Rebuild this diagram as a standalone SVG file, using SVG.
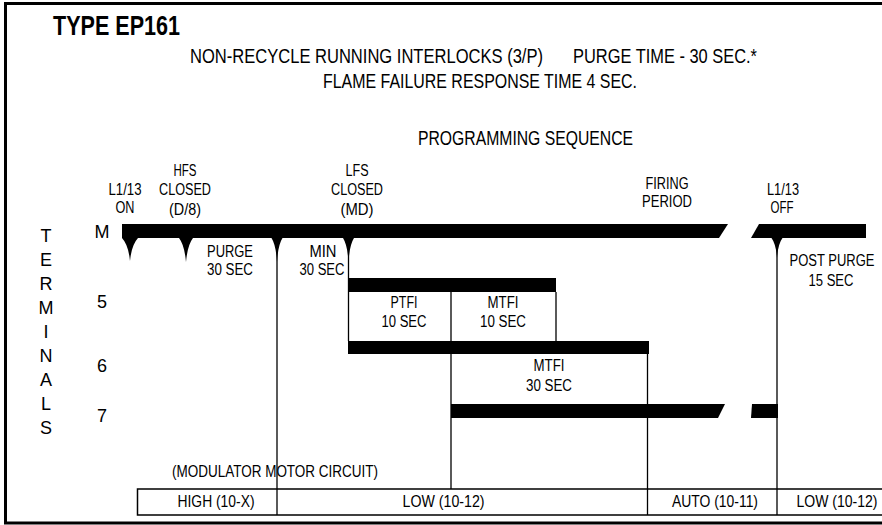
<svg xmlns="http://www.w3.org/2000/svg" width="882" height="525" viewBox="0 0 882 525">
<style>
text{font-family:"Liberation Sans",Arial,sans-serif;fill:#000}
.lb{font-size:16px;text-anchor:middle}
.hd{font-size:21px}
.tm{font-size:18px;text-anchor:middle}
.bar{fill:#000}
.ln{stroke:#000;stroke-width:1.3;fill:none}
.fr{stroke:#000;stroke-width:3;fill:none}
.tb{stroke:#000;stroke-width:1.5;fill:none}
</style>
<rect width="882" height="525" fill="#fff"/>
<g id="frame"><path class="fr" d="M882,3.5 H5.5 V523 H882"/></g>
<g id="title">
<text x="53" y="35" font-size="28" font-weight="bold" textLength="127" lengthAdjust="spacingAndGlyphs">TYPE EP161</text>
<text class="hd" x="190" y="63" textLength="353" lengthAdjust="spacingAndGlyphs">NON-RECYCLE RUNNING INTERLOCKS (3/P)</text>
<text class="hd" x="573" y="63" textLength="184" lengthAdjust="spacingAndGlyphs">PURGE TIME - 30 SEC.*</text>
<text class="hd" x="323" y="88" textLength="314" lengthAdjust="spacingAndGlyphs">FLAME FAILURE RESPONSE TIME 4 SEC.</text>
<text class="hd" x="418" y="145" textLength="215" lengthAdjust="spacingAndGlyphs">PROGRAMMING SEQUENCE</text>
</g>
<g id="terminals-axis">
<text class="tm" x="46" y="242">T</text>
<text class="tm" x="46" y="266">E</text>
<text class="tm" x="46" y="290">R</text>
<text class="tm" x="46" y="314">M</text>
<text class="tm" x="46" y="338">I</text>
<text class="tm" x="46" y="362">N</text>
<text class="tm" x="46" y="386">A</text>
<text class="tm" x="46" y="410">L</text>
<text class="tm" x="46" y="434">S</text>
<text class="tm" x="102" y="238">M</text>
<text class="tm" x="102" y="308">5</text>
<text class="tm" x="102" y="372">6</text>
<text class="tm" x="102" y="422">7</text>
</g>
<g id="event-labels">
<text class="lb" x="125" y="195" textLength="33" lengthAdjust="spacingAndGlyphs">L1/13</text>
<text class="lb" x="125" y="213" textLength="19" lengthAdjust="spacingAndGlyphs">ON</text>
<text class="lb" x="185" y="176" textLength="23" lengthAdjust="spacingAndGlyphs">HFS</text>
<text class="lb" x="185" y="195" textLength="52" lengthAdjust="spacingAndGlyphs">CLOSED</text>
<text class="lb" x="185" y="215" textLength="32" lengthAdjust="spacingAndGlyphs">(D/8)</text>
<text class="lb" x="357" y="176" textLength="23" lengthAdjust="spacingAndGlyphs">LFS</text>
<text class="lb" x="357" y="195" textLength="52" lengthAdjust="spacingAndGlyphs">CLOSED</text>
<text class="lb" x="357" y="215" textLength="33" lengthAdjust="spacingAndGlyphs">(MD)</text>
<text class="lb" x="667" y="189" textLength="43" lengthAdjust="spacingAndGlyphs">FIRING</text>
<text class="lb" x="667" y="207" textLength="50" lengthAdjust="spacingAndGlyphs">PERIOD</text>
<text class="lb" x="783" y="195" textLength="32" lengthAdjust="spacingAndGlyphs">L1/13</text>
<text class="lb" x="782" y="213" textLength="23" lengthAdjust="spacingAndGlyphs">OFF</text>
</g>
<g id="terminal-M">
<polygon class="bar" points="122,224 728,224 719,238 122,238"/>
<polygon class="bar" points="759,224 866,224 866,238 751,238"/>
<path class="bar" d="M122,238 Q128.5,245 130,261 Q131.5,245 138,238 Z"/>
<path class="bar" d="M179,238 Q184.5,245 186,262 Q187.5,245 193,238 Z"/>
<path class="bar" d="M271.5,238 Q276,245 277,262 Q278,245 282.5,238 Z"/>
<path class="bar" d="M343,238 Q347.5,245 348.5,262 Q349.5,245 354,238 Z"/>
<path class="bar" d="M771.5,238 Q776,244 777,258 Q778,244 782.5,238 Z"/>
<text class="lb" x="230" y="257" textLength="46" lengthAdjust="spacingAndGlyphs">PURGE</text>
<text class="lb" x="230" y="275" textLength="46" lengthAdjust="spacingAndGlyphs">30 SEC</text>
<text class="lb" x="323" y="257" textLength="27" lengthAdjust="spacingAndGlyphs">MIN</text>
<text class="lb" x="322" y="275" textLength="45" lengthAdjust="spacingAndGlyphs">30 SEC</text>
<text class="lb" x="832" y="266" textLength="85" lengthAdjust="spacingAndGlyphs">POST PURGE</text>
<text class="lb" x="831" y="286" textLength="45" lengthAdjust="spacingAndGlyphs">15 SEC</text>
</g>
<g id="terminal-5">
<rect class="bar" x="348" y="278" width="208" height="14"/>
<text class="lb" x="404" y="308" textLength="27" lengthAdjust="spacingAndGlyphs">PTFI</text>
<text class="lb" x="404" y="327" textLength="45" lengthAdjust="spacingAndGlyphs">10 SEC</text>
<text class="lb" x="503" y="308" textLength="31" lengthAdjust="spacingAndGlyphs">MTFI</text>
<text class="lb" x="503" y="327" textLength="46" lengthAdjust="spacingAndGlyphs">10 SEC</text>
</g>
<g id="terminal-6">
<rect class="bar" x="348" y="341" width="301" height="13"/>
<text class="lb" x="549" y="371" textLength="31" lengthAdjust="spacingAndGlyphs">MTFI</text>
<text class="lb" x="549" y="391" textLength="46" lengthAdjust="spacingAndGlyphs">30 SEC</text>
</g>
<g id="terminal-7">
<polygon class="bar" points="451,404 725,404 718,418 451,418"/>
<polygon class="bar" points="752,404 778,404 778,418 751,418"/>
</g>
<g id="connectors">
<line class="ln" x1="277" y1="238" x2="277" y2="515"/>
<line class="ln" x1="348.5" y1="238" x2="348.5" y2="341"/>
<line class="ln" x1="451" y1="292" x2="451" y2="489"/>
<line class="ln" x1="556" y1="292" x2="556" y2="341"/>
<line class="ln" x1="647.5" y1="354" x2="647.5" y2="515"/>
<line class="ln" x1="777" y1="238" x2="777" y2="515"/>
</g>
<g id="modulator-table">
<text class="lb" x="275" y="477" textLength="206" lengthAdjust="spacingAndGlyphs">(MODULATOR MOTOR CIRCUIT)</text>
<path class="tb" d="M882,489 H137.5 V515 H882"/>
<text class="lb" x="216" y="507" textLength="77" lengthAdjust="spacingAndGlyphs">HIGH (10-X)</text>
<text class="lb" x="443.5" y="507" textLength="82" lengthAdjust="spacingAndGlyphs">LOW (10-12)</text>
<text class="lb" x="715" y="507" textLength="86" lengthAdjust="spacingAndGlyphs">AUTO (10-11)</text>
<text class="lb" x="837" y="507" textLength="81" lengthAdjust="spacingAndGlyphs">LOW (10-12)</text>
</g>
</svg>
